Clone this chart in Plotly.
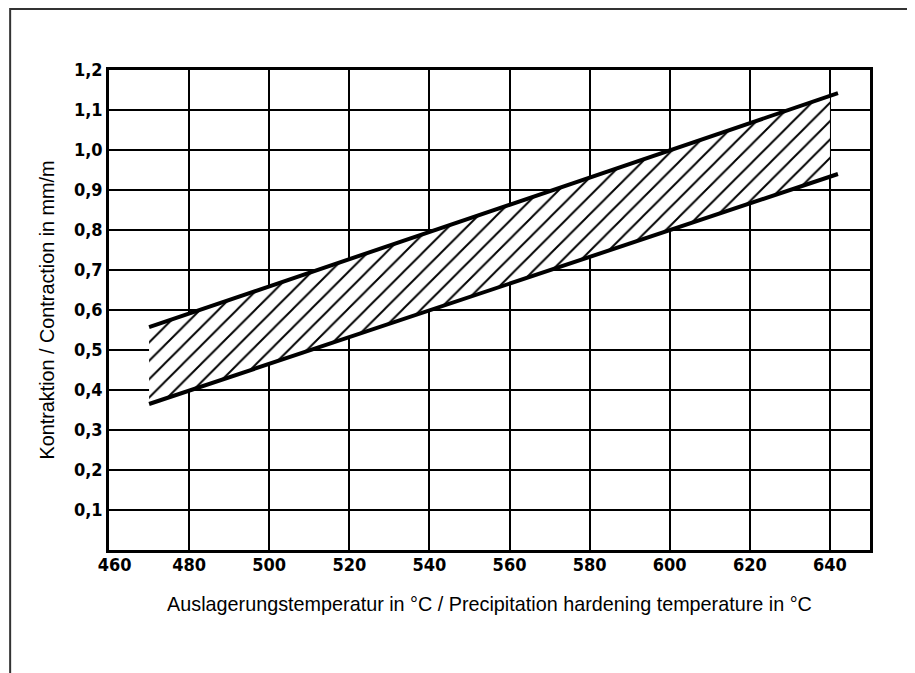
import plotly.graph_objects as go

# values
x_line = [470, 642]
upper_line = [0.557, 1.142]
lower_line = [0.365, 0.940]

x_band = [470, 640]
upper_band = [0.557, 1.135]
lower_band = [0.365, 0.934]

x_ticks = [460, 480, 500, 520, 540, 560, 580, 600, 620, 640]
x_ticktext = ["\u00a0\u00a0460", "480", "500", "520", "540", "560", "580", "600", "620", "640"]
y_ticks = [0.1, 0.2, 0.3, 0.4, 0.5, 0.6, 0.7, 0.8, 0.9, 1.0, 1.1, 1.2]
y_ticktext = ["0,1", "0,2", "0,3", "0,4", "0,5", "0,6", "0,7", "0,8", "0,9", "1,0", "1,1", "1,2"]

tick_font = dict(family="DejaVu Sans Condensed, DejaVu Sans", size=18, color="black", weight="bold")
title_font = dict(family="Liberation Sans, Arial", size=19.8, color="black")

fig = go.Figure()

# hatched band
fig.add_trace(go.Scatter(x=x_band, y=lower_band, mode="lines", line=dict(width=0), hoverinfo="skip"))
fig.add_trace(go.Scatter(
    x=x_band, y=upper_band, mode="lines", line=dict(width=0, color="black"), fill="tonexty",
    fillpattern=dict(shape="/", fgcolor="black", fgopacity=1, bgcolor="white", size=13, solidity=0.15),
    hoverinfo="skip",
))

# boundary lines
fig.add_trace(go.Scatter(x=x_line, y=upper_line, mode="lines", line=dict(color="black", width=4)))
fig.add_trace(go.Scatter(x=x_line, y=lower_line, mode="lines", line=dict(color="black", width=4)))

fig.update_xaxes(
    range=[460, 650], tickvals=x_ticks, ticktext=x_ticktext, tickfont=tick_font,
    showgrid=True, gridcolor="black", gridwidth=1.6, zeroline=False, automargin=False,
    showline=True, linecolor="black", linewidth=2.5, mirror=True, ticks="",
    ticklabelstandoff=-3,
    title=dict(text="Auslagerungstemperatur in °C / Precipitation hardening temperature in °C",
               font=title_font, standoff=23),
)
fig.update_yaxes(
    range=[0, 1.2], tickvals=y_ticks, ticktext=y_ticktext, tickfont=tick_font,
    showgrid=True, gridcolor="black", gridwidth=1.6, zeroline=False, automargin=False,
    showline=True, linecolor="black", linewidth=2.5, mirror=True, ticks="",
    title=dict(text="Kontraktion / Contraction in mm/m", font=title_font, standoff=15),
)

# page frame (open at the bottom)
fig.add_shape(type="rect", xref="paper", yref="paper", x0=-0.1299, x1=1.0565, y0=-0.3, y1=1.127,
              line=dict(color="#333333", width=2), layer="below")

fig.update_layout(
    width=915, height=673,
    margin=dict(l=101, r=53, t=62, b=131),
    paper_bgcolor="white", plot_bgcolor="white",
    showlegend=False,
)

fig.write_html("out.html")
